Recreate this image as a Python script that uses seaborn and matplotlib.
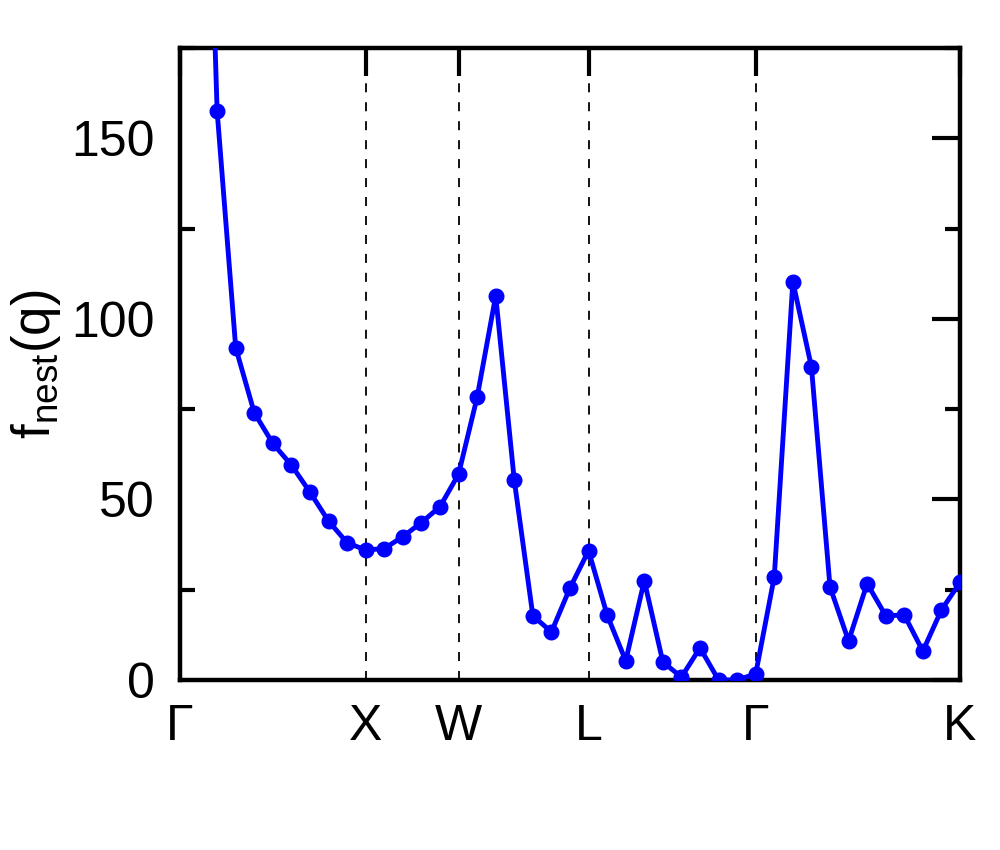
import numpy as np
import pandas as pd
import matplotlib
matplotlib.use("Agg")
import matplotlib.pyplot as plt
import seaborn as sns
from matplotlib.ticker import MultipleLocator

# q-path index (uniform steps along Γ-X-W-L-Γ-K)
q_index = list(range(1, 43))
f_nest = [320, 157.5, 92, 74, 65.5, 59.5, 52, 44, 38, 36,
          36.4, 39.7, 43.6, 48, 57, 78.3, 106.4, 55.3, 17.8, 13.3,
          25.5, 35.8, 18, 5.3, 27.5, 5, 0.8, 8.9, 0, 0,
          1.7, 28.6, 110.3, 86.7, 25.8, 10.8, 26.7, 17.8, 18, 8,
          19.4, 27]

sym_pos = [0, 10, 15, 22, 31, 42]
sym_labels = ['Γ', 'X', 'W', 'L', 'Γ', 'K']

sns.set_style("white")
plt.rcParams['font.family'] = ['Liberation Sans', 'DejaVu Sans']
plt.rcParams['mathtext.fontset'] = 'custom'
plt.rcParams['mathtext.rm'] = 'Liberation Sans'
plt.rcParams['text.color'] = 'black'
plt.rcParams['axes.labelcolor'] = 'black'
plt.rcParams['xtick.color'] = 'black'
plt.rcParams['ytick.color'] = 'black'

df = pd.DataFrame({'q': q_index, 'f': f_nest})

fig = plt.figure(figsize=(10, 8.5), dpi=100)
ax = fig.add_axes([0.18, 0.2, 0.78, 0.7435])

for p in sym_pos[1:-1]:
    ax.axvline(p, color='black', lw=1.3, ls=(0, (5, 5.5)), zorder=1)

sns.lineplot(data=df, x='q', y='f', ax=ax, color='#0000ff', lw=3.5,
             marker='o', markersize=10.5, markeredgewidth=1,
             markeredgecolor='#0000ff', zorder=3)

ax.set_xlim(0, 42)
ax.set_ylim(0, 175)
ax.set_xticks(sym_pos)
ax.set_xticklabels(sym_labels)
ax.yaxis.set_major_locator(MultipleLocator(50))
ax.yaxis.set_minor_locator(MultipleLocator(25))
ax.tick_params(axis='both', which='major', direction='in', length=20, width=3,
               labelsize=36, top=True, right=True, colors='black')
ax.tick_params(axis='y', which='minor', direction='in', length=11, width=3,
               left=True, right=True, colors='black')
ax.tick_params(axis='x', pad=17)
ax.tick_params(axis='y', pad=18)

for s in ax.spines.values():
    s.set_linewidth(3.2)
    s.set_color('black')

ax.set_xlabel('')
ax.set_ylabel(r'$\mathregular{f_{nest}(q)}$', fontsize=38, labelpad=6)

fig.savefig('out.png', dpi=100)
